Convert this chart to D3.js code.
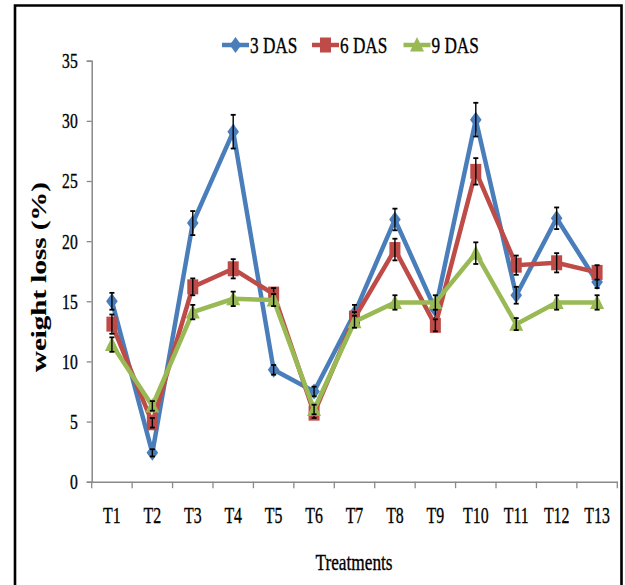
<!DOCTYPE html>
<html>
<head>
<meta charset="utf-8">
<script src="https://cdn.jsdelivr.net/npm/d3@7"></script>
<style>
  body { margin: 0; background: #fff; }
  svg { display: block; }
  text { font-family: "Liberation Serif", "DejaVu Serif", serif; fill: #000; stroke: #000; stroke-width: 0.35px; }
</style>
</head>
<body>
<div id="chart"></div>
<script>
// treatments on the x axis
const treatments = ['T1','T2','T3','T4','T5','T6','T7','T8','T9','T10','T11','T12','T13'];
const seriesNames = ['3 DAS', '6 DAS', '9 DAS'];

// weight loss (%)
const das3 = [15.0, 2.4, 21.5, 29.1, 9.3, 7.5, 14.0, 21.8, 14.3, 30.1, 15.5, 21.9, 16.6];
const das6 = [13.1, 4.9, 16.2, 17.7, 15.6, 5.7, 13.6, 19.3, 13.0, 25.8, 18.0, 18.2, 17.4];
const das9 = [11.4, 6.3, 14.1, 15.2, 15.1, 6.0, 13.3, 14.9, 14.9, 19.0, 13.1, 14.9, 14.9];

// error bar half-widths
const err3 = [0.7, 0.3, 1.0, 1.4, 0.4, 0.4, 0.7, 0.9, 0.7, 1.4, 0.7, 0.9, 0.5];
const err6 = [0.8, 0.4, 0.7, 0.8, 0.5, 0.4, 0.5, 0.9, 0.5, 1.1, 0.8, 0.8, 0.6];
const err9 = [0.6, 0.4, 0.6, 0.6, 0.5, 0.4, 0.5, 0.6, 0.6, 0.9, 0.5, 0.6, 0.6];

const yTicks = [0, 5, 10, 15, 20, 25, 30, 35];

let width = 625;
let height = 585;

let svg = d3.select('#chart').append('svg')
  .attr('width', width)
  .attr('height', height);

// outer frame (bottom runs off the picture)
svg.append('path')
  .attr('d', 'M15,600 L15,5.5 L621.5,5.5 L621.5,600')
  .attr('fill', 'none')
  .attr('stroke', '#000')
  .attr('stroke-width', 2.6);

let x = d3.scaleBand()
  .domain(treatments)
  .range([91.7, 617.3])
  .padding(0);

let y = d3.scaleLinear()
  .domain([0, 35])
  .range([481.7, 60.7]);

let cx = d => x(d) + x.bandwidth() / 2;

const axisColor = '#898989';

// y axis
let yAxis = svg.append('g')
  .attr('transform', 'translate(91.7,0)')
  .call(d3.axisLeft(y).tickValues(yTicks).tickSize(5).tickPadding(0));
yAxis.select('.domain').attr('stroke', axisColor).attr('stroke-width', 1.5);
yAxis.selectAll('.tick line').attr('stroke', axisColor).attr('stroke-width', 1.3);
yAxis.selectAll('.tick text')
  .attr('x', 0).attr('dy', null)
  .attr('text-anchor', 'end')
  .attr('transform', 'translate(-14,7) scale(0.78,1)')
  .style('font-size', '20px')
  .style('font-family', '"Liberation Serif", serif');

// x axis, labels at band centres, ticks on band edges
let xAxis = svg.append('g')
  .attr('transform', 'translate(0,481.7)')
  .call(d3.axisBottom(x).tickSize(0).tickPadding(0));
xAxis.select('.domain').attr('stroke', axisColor).attr('stroke-width', 1.5);
xAxis.selectAll('.tick text')
  .attr('y', 0).attr('dy', null)
  .attr('transform', 'translate(0,41) scale(0.66,1)')
  .style('font-size', '24px')
  .style('font-family', '"Liberation Serif", serif');

let edges = treatments.map(t => x(t)).concat([x.range()[1]]);
xAxis.selectAll('.edge')
  .data(edges)
  .enter()
  .append('line')
  .attr('x1', d => d).attr('x2', d => d)
  .attr('y1', 0).attr('y2', 6.5)
  .attr('stroke', axisColor)
  .attr('stroke-width', 1.3);

// axis titles
svg.append('text')
  .attr('transform', 'translate(354,570) scale(0.72,1)')
  .attr('text-anchor', 'middle')
  .style('font-size', '24px')
  .text('Treatments');

svg.append('text')
  .attr('transform', 'translate(46,277) scale(0.7,1) rotate(-90)')
  .attr('text-anchor', 'middle')
  .style('font-size', '29px')
  .style('font-weight', 'bold')
  .style('stroke-width', '0.2px')
  .text('weight loss (%)');

// series
const series = [
  { name: seriesNames[0], values: das3, errors: err3, color: '#4A7EBB', shape: 'diamond' },
  { name: seriesNames[1], values: das6, errors: err6, color: '#BE4B48', shape: 'square' },
  { name: seriesNames[2], values: das9, errors: err9, color: '#98B954', shape: 'triangle' }
];

function marker(shape) {
  if (shape === 'diamond') return 'M0,-8 L5.8,0 L0,8 L-5.8,0 Z';
  if (shape === 'square') return 'M-5.5,-7.5 L5.5,-7.5 L5.5,7.5 L-5.5,7.5 Z';
  return 'M0,-8 L7,6.5 L-7,6.5 Z';
}

let line = d3.line()
  .x((d, i) => cx(treatments[i]))
  .y(d => y(d));

series.forEach(s => {
  let g = svg.append('g').classed('series', true);

  g.append('path')
    .datum(s.values)
    .attr('d', line)
    .attr('fill', 'none')
    .attr('stroke', s.color)
    .attr('stroke-width', 4.5)
    .attr('stroke-linejoin', 'miter');

  g.selectAll('.mark')
    .data(s.values)
    .enter()
    .append('path')
    .attr('d', marker(s.shape))
    .attr('transform', (d, i) => `translate(${cx(treatments[i])},${y(d)})`)
    .attr('fill', s.color);

  let eb = g.selectAll('.err')
    .data(s.values.map((v, i) => ({ v: v, e: s.errors[i], t: treatments[i] })))
    .enter()
    .append('g')
    .attr('stroke', '#000')
    .attr('stroke-width', 1.4);
  eb.append('line')
    .attr('x1', d => cx(d.t)).attr('x2', d => cx(d.t))
    .attr('y1', d => y(d.v - d.e)).attr('y2', d => y(d.v + d.e));
  eb.append('line')
    .attr('x1', d => cx(d.t) - 2.5).attr('x2', d => cx(d.t) + 2.5)
    .attr('y1', d => y(d.v + d.e)).attr('y2', d => y(d.v + d.e))
    .attr('stroke-width', 1.8);
  eb.append('line')
    .attr('x1', d => cx(d.t) - 2.5).attr('x2', d => cx(d.t) + 2.5)
    .attr('y1', d => y(d.v - d.e)).attr('y2', d => y(d.v - d.e))
    .attr('stroke-width', 1.8);
});

// legend
const legendX = [222, 312, 403.5];
let legend = svg.append('g').classed('legend', true);
series.forEach((s, i) => {
  let lg = legend.append('g').attr('transform', `translate(${legendX[i]},45)`);
  lg.append('line')
    .attr('x1', 0).attr('x2', 27)
    .attr('y1', 0).attr('y2', 0)
    .attr('stroke', s.color)
    .attr('stroke-width', 4.5);
  lg.append('path')
    .attr('d', marker(s.shape))
    .attr('transform', 'translate(13.5,0)')
    .attr('fill', s.color);
  lg.append('text')
    .attr('transform', 'translate(28,8) scale(0.75,1)')
    .style('font-size', '23px')
    .text(s.name);
});
</script>
</body>
</html>
